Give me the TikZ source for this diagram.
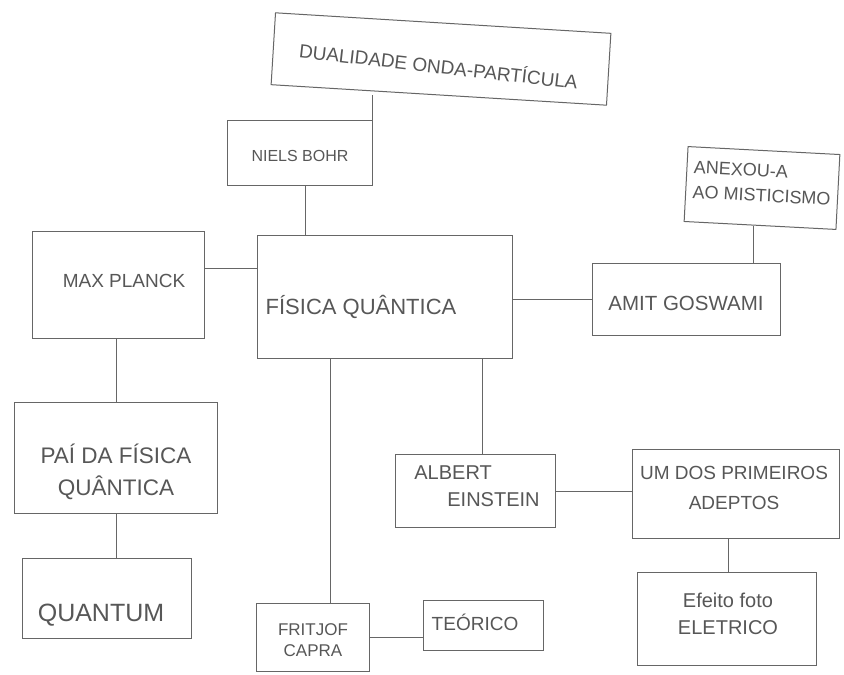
\documentclass[tikz,border=0pt]{standalone}
\usepackage{fontspec}
\usepackage{graphicx}
\setmainfont{Liberation Sans}
% place a (possibly multi-line) label inside a box, shifted by dx right and dy down (pt)
\newcommand{\txt}[4][c]{\raisebox{\dimexpr 0pt-(#3pt)-0.25em\relax}[0pt][0pt]{%
  \hspace*{#2pt}\hspace*{#2pt}\begin{tabular}{@{}#1@{}}#4\end{tabular}}}
\begin{document}
\begin{tikzpicture}[x=1pt,y=-1pt,
  pencil/.style={draw=black!60, line width=1pt},
  box/.style={pencil, rectangle, text=black!66, inner sep=0pt},
  link/.style={pencil}]
\useasboundingbox[fill=white] (0,0) rectangle (844,675);

% concept boxes
\node[box, minimum width=336pt, minimum height=72pt, rotate=-3.5,
  font=\fontsize{19}{23}\selectfont] (dual) at (441,59)
  {\txt{-2}{6}{\rotatebox{-3}{DUALIDADE ONDA-PARTÍCULA}}};
\node[box, minimum width=145pt, minimum height=65pt,
  font=\fontsize{16}{20}\selectfont] (niels) at (300,153) {\txt{0}{5}{NIELS BOHR}};
\node[box, minimum width=255pt, minimum height=123pt,
  font=\fontsize{22}{26}\selectfont] (fis) at (385,297) {\txt{-24}{11}{FÍSICA QUÂNTICA}};
\node[box, minimum width=172pt, minimum height=107pt,
  font=\fontsize{19}{23}\selectfont] (max) at (118,285) {\txt{6}{-3}{MAX PLANCK}};
\node[box, minimum width=188pt, minimum height=72pt,
  font=\fontsize{20.5}{24}\selectfont] (amit) at (686,299) {\txt{0}{7}{AMIT GOSWAMI}};
\node[box, minimum width=152pt, minimum height=75pt, rotate=-3,
  font=\fontsize{18}{25}\selectfont] (anex) at (762,188) {\txt[l]{0}{-4}{ANEXOU-A\\AO MISTICISMO}};
\node[box, minimum width=203pt, minimum height=111pt,
  font=\fontsize{22.5}{32}\selectfont] (pai) at (116,458) {\txt{0}{15}{PAÍ DA FÍSICA\\QUÂNTICA}};
\node[box, minimum width=169pt, minimum height=80pt,
  font=\fontsize{25}{29}\selectfont] (quant) at (107,598) {\txt{-6}{18}{QUANTUM}};
\node[box, minimum width=113pt, minimum height=68pt,
  font=\fontsize{17}{21}\selectfont] (frit) at (313,637) {\txt{0}{5}{FRITJOF\\CAPRA}};
\node[box, minimum width=120pt, minimum height=50pt,
  font=\fontsize{19}{23}\selectfont] (teo) at (483,625) {\txt{-8}{0}{TEÓRICO}};
\node[box, minimum width=160pt, minimum height=73pt,
  font=\fontsize{20}{27}\selectfont] (alb) at (475,491) {\txt[l]{2}{-3}{ALBERT\\\hspace{33pt}EINSTEIN}};
\node[box, minimum width=207pt, minimum height=89pt,
  font=\fontsize{19}{30}\selectfont] (um) at (736,494) {\txt{-2}{-6}{UM DOS PRIMEIROS\\ADEPTOS}};
\node[box, minimum width=179pt, minimum height=93pt,
  font=\fontsize{20}{27}\selectfont] (efe) at (727,619) {\txt{1}{-3}{Efeito foto\\ELETRICO}};

% connectors
\draw[link] ([xshift=-1pt]niels.north east) -- ([xshift=-1pt]niels.north east |- dual.south);
\draw[link] ([xshift=5pt]niels.south) -- ([xshift=5pt]niels.south |- fis.north);
\draw[link] ([yshift=17pt]max.east) -- ([yshift=17pt]max.east -| fis.west);
\draw[link] (amit.west) -- (amit.west -| fis.east);
\draw[link] ([xshift=-7pt]anex.south) -- ([xshift=-7pt]anex.south |- amit.north);
\draw[link] ([xshift=-2pt]max.south) -- ([xshift=-2pt]max.south |- pai.north);
\draw[link] (pai.south) -- (pai.south |- quant.north);
\draw[link] ([xshift=-55pt]fis.south) -- ([xshift=-55pt]fis.south |- frit.north);
\draw[link] (frit.east) -- (frit.east -| teo.west);
\draw[link] ([xshift=97pt]fis.south) -- ([xshift=97pt]fis.south |- alb.north);
\draw[link] (alb.east) -- (alb.east -| um.west);
\draw[link] ([xshift=-8pt]um.south) -- ([xshift=-8pt]um.south |- efe.north);
\end{tikzpicture}
\end{document}
